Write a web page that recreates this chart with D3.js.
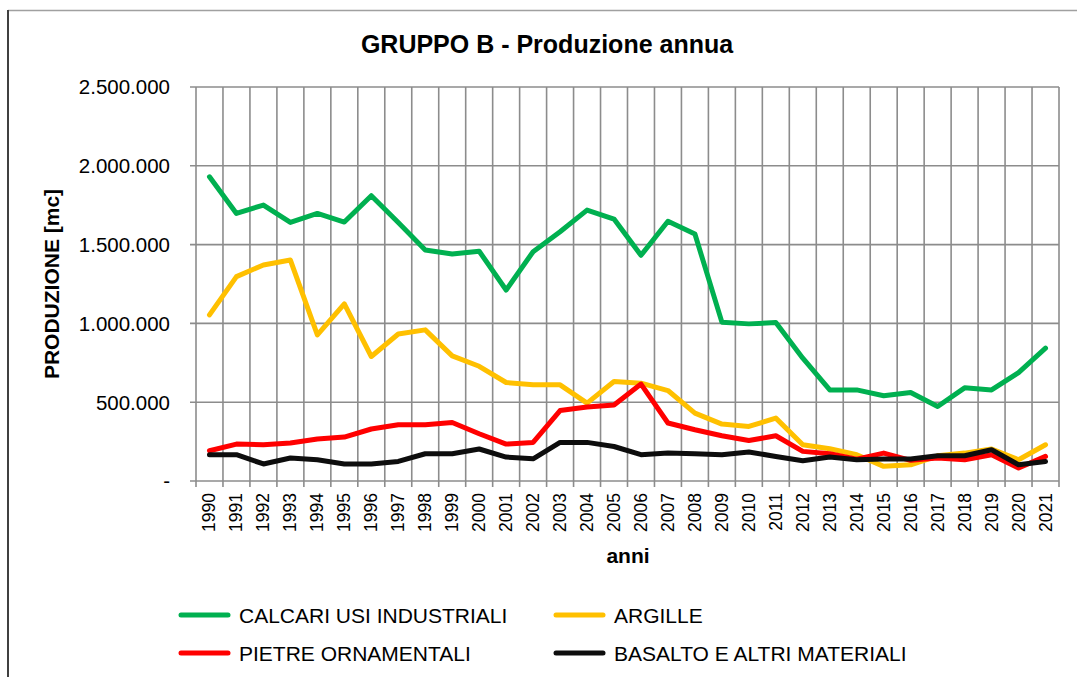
<!DOCTYPE html>
<html>
<head>
<meta charset="utf-8">
<script src="https://cdn.jsdelivr.net/npm/d3@7"></script>
<style>
    body { margin: 0; background: #fff; }
    text { font-family: "Liberation Sans", Arial, sans-serif; fill: #000; }
</style>
</head>
<body>
<div id="chart-area"></div>
<script>
// dati
var anni = ["1990","1991","1992","1993","1994","1995","1996","1997","1998","1999",
    "2000","2001","2002","2003","2004","2005","2006","2007","2008","2009",
    "2010","2011","2012","2013","2014","2015","2016","2017","2018","2019","2020","2021"];

var calcari = [1930000,1698000,1751000,1641000,1698000,1643000,1810000,1640000,1466000,1440000,
    1458000,1212000,1455000,1582000,1719000,1662000,1432000,1648000,1567000,1008000,
    997000,1005000,779000,578000,578000,541000,562000,473000,591000,578000,688000,843000];

var argille = [1054000,1297000,1371000,1402000,927000,1124000,790000,933000,959000,794000,
    728000,625000,610000,610000,494000,631000,621000,574000,431000,361000,
    346000,399000,230000,205000,167000,93000,103000,160000,177000,203000,135000,230000];

var pietre = [192000,234000,230000,241000,266000,279000,330000,357000,357000,371000,
    300000,234000,245000,447000,469000,482000,615000,368000,325000,287000,
    257000,287000,188000,173000,139000,177000,131000,146000,135000,167000,82000,156000];

var basalto = [167000,167000,108000,146000,135000,108000,108000,124000,173000,173000,
    203000,152000,141000,245000,245000,219000,167000,177000,173000,167000,
    184000,156000,129000,152000,135000,139000,139000,160000,160000,198000,103000,124000];

var yTicks = [0, 500000, 1000000, 1500000, 2000000, 2500000];
var yLabels = ["-", "500.000", "1.000.000", "1.500.000", "2.000.000", "2.500.000"];

var serie = [
    {nome: "CALCARI USI INDUSTRIALI", valori: calcari, colore: "#00b050"},
    {nome: "ARGILLE", valori: argille, colore: "#ffc000"},
    {nome: "PIETRE ORNAMENTALI", valori: pietre, colore: "#ff0000"},
    {nome: "BASALTO E ALTRI MATERIALI", valori: basalto, colore: "#0d0d0d"}
];

var svg = d3.select("#chart-area").append("svg")
    .attr("width", 1077)
    .attr("height", 677);

// cornice
svg.append("line").attr("x1", 8).attr("x2", 1077).attr("y1", 10.5).attr("y2", 10.5)
    .attr("stroke", "#a0a0a0").attr("stroke-width", 1.5);
svg.append("line").attr("x1", 8).attr("x2", 8).attr("y1", 10).attr("y2", 677)
    .attr("stroke", "#404040").attr("stroke-width", 2);

var x = d3.scaleBand()
    .domain(anni)
    .range([196, 1059])
    .padding(0);

var y = d3.scaleLinear()
    .domain([0, 2500000])
    .range([481, 87]);

// griglia
svg.append("g")
    .selectAll("line.h").data(yTicks).enter()
    .append("line")
        .attr("x1", 190).attr("x2", 1059)
        .attr("y1", (d) => y(d)).attr("y2", (d) => y(d))
        .attr("stroke", "#8c8c8c").attr("stroke-width", 1.6);

var bordi = anni.map((d) => x(d)).concat([x.range()[1]]);
svg.append("g")
    .selectAll("line.v").data(bordi).enter()
    .append("line")
        .attr("x1", (d) => d).attr("x2", (d) => d)
        .attr("y1", 87).attr("y2", 487)
        .attr("stroke", "#8c8c8c").attr("stroke-width", 1.6);

// etichette asse y
svg.append("g")
    .selectAll("text").data(yTicks).enter()
    .append("text")
        .attr("x", 170)
        .attr("y", (d) => y(d))
        .attr("dy", "0.36em")
        .attr("text-anchor", "end")
        .style("font-size", "20.5px")
        .text((d, i) => yLabels[i]);

// etichette anni
svg.append("g")
    .selectAll("text").data(anni).enter()
    .append("text")
        .attr("transform", (d) => "translate(" + (x(d) + x.bandwidth() / 2 + 6) + ",493) rotate(-90)")
        .attr("text-anchor", "end")
        .style("font-size", "17.5px")
        .text((d) => d);

// linee
var linea = d3.line()
    .x((d, i) => x(anni[i]) + x.bandwidth() / 2)
    .y((d) => y(d));

svg.append("g")
    .selectAll("path").data(serie).enter()
    .append("path")
        .attr("d", (d) => linea(d.valori))
        .attr("fill", "none")
        .attr("stroke", (d) => d.colore)
        .attr("stroke-width", 5)
        .attr("stroke-linejoin", "round")
        .attr("stroke-linecap", "round");

// titoli
svg.append("text")
    .attr("x", 547).attr("y", 53)
    .attr("text-anchor", "middle")
    .style("font-size", "25px").style("font-weight", "bold")
    .text("GRUPPO B - Produzione annua");

svg.append("text")
    .attr("transform", "translate(59,284) rotate(-90)")
    .attr("text-anchor", "middle")
    .style("font-size", "21px").style("font-weight", "bold")
    .text("PRODUZIONE [mc]");

svg.append("text")
    .attr("x", 628).attr("y", 563)
    .attr("text-anchor", "middle")
    .style("font-size", "21px").style("font-weight", "bold")
    .text("anni");

// legenda
var posLegenda = [[181, 615], [556, 615], [181, 653], [556, 653]];
var leg = svg.append("g")
    .selectAll("g").data(serie).enter()
    .append("g")
        .attr("transform", (d, i) => "translate(" + posLegenda[i][0] + "," + posLegenda[i][1] + ")");

leg.append("line")
    .attr("x1", 0).attr("x2", 47)
    .attr("stroke", (d) => d.colore)
    .attr("stroke-width", 5)
    .attr("stroke-linecap", "round");

leg.append("text")
    .attr("x", 58)
    .attr("dy", "0.36em")
    .style("font-size", "21px")
    .text((d) => d.nome);
</script>
</body>
</html>
